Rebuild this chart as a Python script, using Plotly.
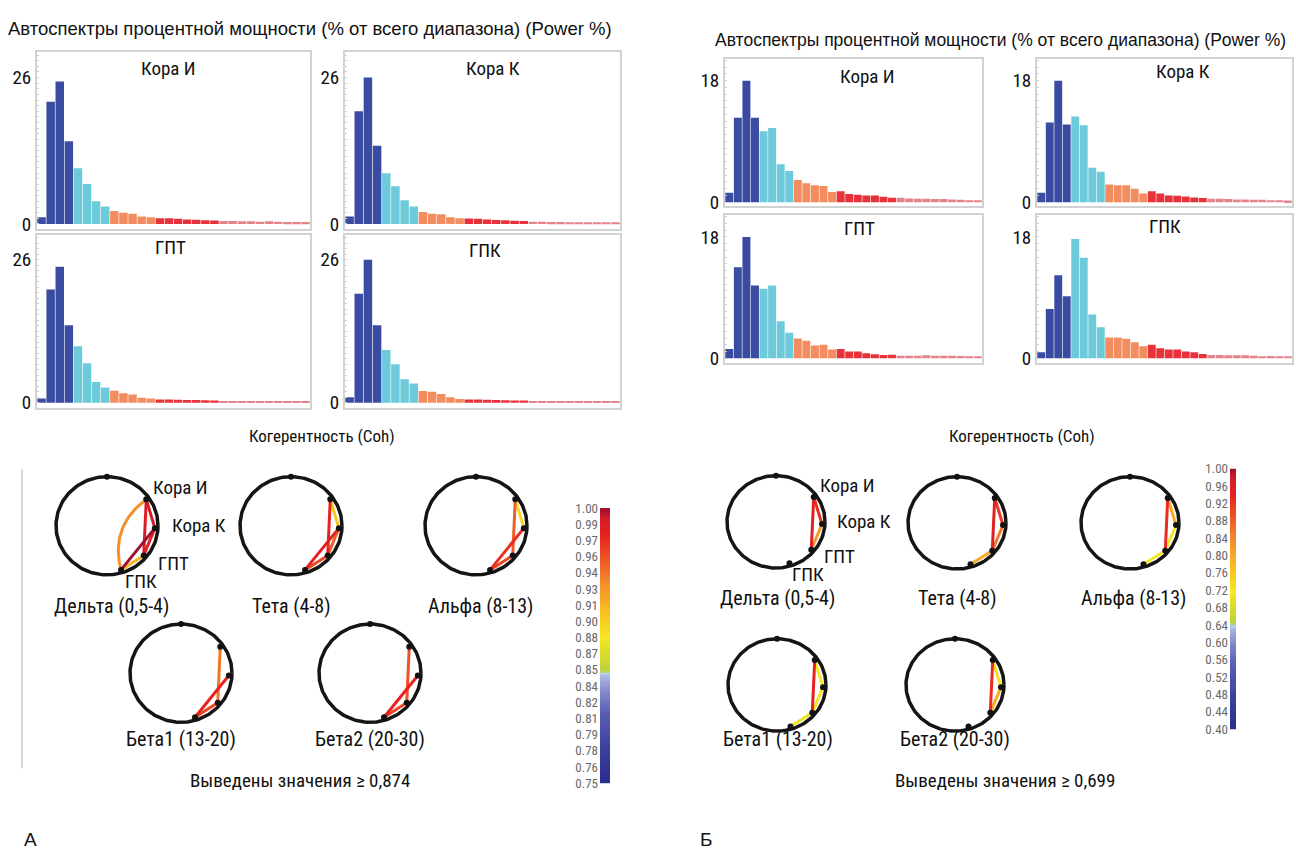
import numpy as np
import plotly.graph_objects as go

W, H = 1296, 857
FONT = "Liberation Sans Narrow, Arial Narrow, Roboto Condensed, Roboto, sans-serif"
FONT_WIDE = "Liberation Sans, Arial, sans-serif"

# ---------------- DATA ----------------
# Power % spectra, 30 one-Hz bins (0.5..30 Hz)
spec_A_kora_i = [1.2, 21.7, 25.3, 14.7, 9.9, 7.1, 4.0, 3.1, 2.3, 2.0, 1.8, 1.3, 1.2, 1.0, 1.0,
                 0.9, 0.8, 0.75, 0.65, 0.6, 0.5, 0.5, 0.45, 0.45, 0.4, 0.45, 0.4, 0.35, 0.35, 0.35]
spec_A_kora_k = [1.3, 20.0, 26.0, 13.9, 9.0, 6.7, 4.2, 3.1, 2.1, 1.8, 1.7, 1.2, 1.0, 0.95, 0.9,
                 0.8, 0.7, 0.65, 0.55, 0.5, 0.4, 0.4, 0.35, 0.35, 0.3, 0.3, 0.3, 0.3, 0.3, 0.3]
spec_A_gpt = [0.8, 20.6, 24.7, 14.1, 10.3, 7.2, 3.8, 2.8, 2.2, 1.75, 1.5, 0.9, 0.8, 0.6, 0.6,
              0.55, 0.5, 0.5, 0.45, 0.4, 0.35, 0.35, 0.3, 0.3, 0.3, 0.3, 0.35, 0.3, 0.3, 0.3]
spec_A_gpk = [1.0, 19.8, 26.0, 14.1, 9.6, 7.0, 4.3, 3.5, 2.15, 2.0, 1.6, 1.0, 0.7, 0.6, 0.6,
              0.55, 0.5, 0.45, 0.4, 0.4, 0.35, 0.35, 0.3, 0.3, 0.3, 0.3, 0.3, 0.3, 0.3, 0.3]

spec_B_kora_i = [1.4, 12.5, 18.0, 12.5, 10.5, 11.0, 5.6, 4.6, 3.3, 2.8, 2.5, 2.4, 1.5, 1.6, 1.2,
                 1.1, 1.0, 1.0, 0.8, 0.65, 0.65, 0.55, 0.5, 0.5, 0.45, 0.45, 0.4, 0.35, 0.3, 0.3]
spec_B_kora_k = [1.4, 11.8, 18.0, 11.5, 12.7, 11.4, 5.1, 4.5, 2.6, 2.5, 2.5, 2.0, 1.3, 1.6, 1.3,
                 1.0, 0.95, 0.85, 0.7, 0.6, 0.5, 0.5, 0.45, 0.4, 0.4, 0.35, 0.35, 0.3, 0.3, 0.25]
spec_B_gpt = [1.4, 13.5, 18.0, 10.8, 10.3, 10.8, 5.5, 3.8, 2.96, 2.6, 1.9, 2.0, 1.3, 1.4, 1.0,
              1.0, 0.75, 0.6, 0.5, 0.55, 0.4, 0.4, 0.4, 0.45, 0.4, 0.4, 0.4, 0.35, 0.3, 0.3]
spec_B_gpk = [0.9, 7.3, 12.3, 9.2, 17.7, 14.9, 6.5, 4.6, 3.1, 3.1, 2.9, 2.4, 1.8, 2.0, 1.5,
              1.3, 1.3, 1.0, 0.9, 0.65, 0.5, 0.5, 0.45, 0.45, 0.45, 0.4, 0.3, 0.35, 0.3, 0.3]

panel_titles = ["Кора И", "Кора К", "ГПТ", "ГПК"]
scale_A_top = 26
scale_B_top = 18

# Coherence: pairs and band values (None = not shown, below threshold)
electrodes = ["Кора И", "Кора К", "ГПТ", "ГПК"]
pairs = [(0, 1), (0, 2), (0, 3), (1, 2), (1, 3), (2, 3)]
bands = ["Дельта (0,5-4)", "Тета (4-8)", "Альфа (8-13)", "Бета1 (13-20)", "Бета2 (20-30)"]
coh_A = [
    [0.99, 0.985, 0.93, 0.98, 1.00, 0.91],
    [0.90, 0.975, None, 0.95, 0.98, 0.96],
    [0.89, 0.95, None, None, 0.97, 0.96],
    [None, 0.94, None, None, 0.975, 0.96],
    [None, 0.955, None, None, 0.975, 0.96],
]
coh_B = [
    [0.93, 0.95, None, 0.82, None, None],
    [0.92, 0.95, None, 0.85, None, 0.80],
    [0.80, 0.93, None, 0.72, None, 0.72],
    [0.72, 0.94, None, 0.72, None, 0.71],
    [0.73, 0.93, None, 0.80, None, None],
]
cbar_A_labels = ["1.00", "0.99", "0.97", "0.96", "0.94", "0.93", "0.91", "0.90", "0.88",
                 "0.87", "0.85", "0.84", "0.82", "0.81", "0.79", "0.78", "0.76", "0.75"]
cbar_B_labels = ["1.00", "0.96", "0.92", "0.88", "0.84", "0.80", "0.76", "0.72",
                 "0.68", "0.64", "0.60", "0.56", "0.52", "0.48", "0.44", "0.40"]
cbar_A_range = (0.75, 1.00)
cbar_B_range = (0.40, 1.00)
threshold_A = "0,874"
threshold_B = "0,699"

# ---------------- STYLE ----------------
band_colors = ["#3a4ca2"] * 4 + ["#6ccadb"] * 4 + ["#f38d5f"] * 5 + ["#e8323b"] * 7 + ["#e5838b"] * 10

cscale = [
    [0.00, "#2a2c8e"], [0.12, "#3a3fa0"], [0.25, "#5a5cb4"], [0.33, "#8488c8"],
    [0.385, "#aab4e0"], [0.40, "#b4dcf2"], [0.405, "#bcd23c"], [0.47, "#d8dc2a"],
    [0.53, "#f6e622"], [0.62, "#f8c020"], [0.72, "#f3902a"], [0.82, "#ee5226"],
    [0.90, "#e6231f"], [0.96, "#d41c28"], [1.00, "#9c1030"],
]


def hex2rgb(h):
    h = h.lstrip("#")
    return tuple(int(h[i:i + 2], 16) for i in (0, 2, 4))


def cmap(t):
    t = min(max(t, 0.0), 1.0)
    for (p0, c0), (p1, c1) in zip(cscale[:-1], cscale[1:]):
        if p0 <= t <= p1:
            f = 0 if p1 == p0 else (t - p0) / (p1 - p0)
            a, b = hex2rgb(c0), hex2rgb(c1)
            r = [round(a[i] + (b[i] - a[i]) * f) for i in range(3)]
            return f"rgb({r[0]},{r[1]},{r[2]})"
    return cscale[-1][1]


fig = go.Figure()
layout = {}
annotations = []
nax = [0]


def new_axes(x0, x1, y0, y1):
    nax[0] += 1
    n = nax[0]
    s = "" if n == 1 else str(n)
    layout["xaxis" + s] = dict(domain=[x0 / W, x1 / W], anchor="y" + s)
    layout["yaxis" + s] = dict(domain=[1 - y1 / H, 1 - y0 / H], anchor="x" + s)
    return "x" + s, "y" + s, "xaxis" + s, "yaxis" + s


def ann(text, x, y, size=17, color="#111", xanchor="center", family=FONT):
    annotations.append(dict(text=text, x=x / W, y=1 - y / H, xref="paper", yref="paper", showarrow=False,
                            xanchor=xanchor, yanchor="middle",
                            font=dict(family=family, size=size, color=color)))


# ---------------- SPECTRA ----------------
def spectrum_panel(vals, box, top, ymax, title, title_xy):
    x0, x1, y0, y1 = box
    xr, yr, xa, ya = new_axes(x0, x1, y0, y1)
    fig.add_trace(go.Bar(x=list(range(len(vals))), y=vals, marker=dict(color=band_colors, line=dict(width=0)),
                         xaxis=xr, yaxis=yr, hoverinfo="skip"))
    layout[xa].update(range=[-0.5, len(vals) - 0.5], showline=True, mirror=True, linecolor="#d2d2d2",
                      linewidth=2, showticklabels=False, showgrid=False, zeroline=False, ticks="")
    layout[ya].update(range=[-0.03 * ymax, ymax], showline=True, mirror=True, linecolor="#d2d2d2",
                      linewidth=2, tickvals=[0, top], ticktext=["0", str(top)], ticks="",
                      tickfont=dict(family=FONT, size=19, color="#111"), showgrid=False, zeroline=False,
                      minor=dict(ticks="inside", ticklen=2, tickcolor="#d0d0d0", dtick=1))
    ann(title, title_xy[0], title_xy[1], size=19)


specA = [spec_A_kora_i, spec_A_kora_k, spec_A_gpt, spec_A_gpk]
specB = [spec_B_kora_i, spec_B_kora_k, spec_B_gpt, spec_B_gpk]
boxesA = [(37, 310, 46, 226), (345, 620, 46, 226), (37, 310, 232, 408), (345, 620, 232, 408)]
titlesA = [(168, 63), (493, 63), (170, 245), (485, 248)]
boxesB = [(725, 982, 53, 203), (1037, 1292, 53, 203), (725, 982, 212, 362), (1037, 1292, 212, 362)]
titlesB = [(867, 71), (1183, 66), (860, 225), (1165, 223)]
for v, b, t, tt in zip(specA, boxesA, panel_titles, titlesA):
    spectrum_panel(v, b, scale_A_top, 30.5, t, tt)
for v, b, t, tt in zip(specB, boxesB, panel_titles, titlesB):
    spectrum_panel(v, b, scale_B_top, 21.2, t, tt)

# ---------------- COHERENCE HEADS ----------------
elec_ang = np.radians([35, -3, -40, -73])
elec_r = 0.94
label_off = [(1.45, 0.78), (1.8, 0.0), (1.3, -0.76), (0.66, -1.14)]


def head(cx, cy, rx, ry, vals, vmin, vmax, with_labels):
    xr, yr, xa, ya = new_axes(cx - 1.3 * rx, cx + 1.3 * rx, cy - 1.3 * ry, cy + 1.3 * ry)
    layout[xa].update(range=[-1.3, 1.3], visible=False)
    layout[ya].update(range=[-1.3, 1.3], visible=False)
    th = np.linspace(0, 2 * np.pi, 200)
    fig.add_trace(go.Scatter(x=np.cos(th), y=np.sin(th), mode="lines", line=dict(color="#151515", width=3.5),
                             xaxis=xr, yaxis=yr, hoverinfo="skip"))
    ex = elec_r * np.cos(elec_ang)
    ey = elec_r * np.sin(elec_ang)
    order = sorted([i for i, v in enumerate(vals) if v is not None], key=lambda i: vals[i])
    for i in order:
        a, b = pairs[i]
        col = cmap((vals[i] - vmin) / (vmax - vmin))
        if (a, b) == (0, 3):
            p0 = np.array([ex[a], ey[a]])
            p2 = np.array([ex[b], ey[b]])
            c = (p0 + p2) / 2 * 0.1
            t = np.linspace(0, 1, 40)[:, None]
            pts = (1 - t) ** 2 * p0 + 2 * (1 - t) * t * c + t ** 2 * p2
            lx, ly = pts[:, 0], pts[:, 1]
        else:
            lx, ly = [ex[a], ex[b]], [ey[a], ey[b]]
        fig.add_trace(go.Scatter(x=lx, y=ly, mode="lines", line=dict(color=col, width=3),
                                 xaxis=xr, yaxis=yr, hoverinfo="skip"))
    fig.add_trace(go.Scatter(x=list(ex) + [0], y=list(ey) + [1.0], mode="markers",
                             marker=dict(color="#111", size=6), xaxis=xr, yaxis=yr, hoverinfo="skip"))
    if with_labels:
        for name, (dx, dy) in zip(electrodes, label_off):
            ann(name, cx + dx * rx, cy - dy * ry, size=19)


headsA = [(107, 528), (291, 528), (476, 528), (181, 678), (370, 678)]
labelsA = [(111, 610), (291, 610), (480, 610), (181, 745), (370, 745)]
headsB = [(776, 524), (957, 525), (1130, 525), (777, 690), (955, 690)]
labelsB = [(777, 602), (958, 602), (1133, 602), (778, 745), (955, 745)]
for k in range(5):
    head(headsA[k][0], headsA[k][1], 51, 50, coh_A[k], cbar_A_range[0], cbar_A_range[1], k == 0)
    ann(bands[k], labelsA[k][0], labelsA[k][1], size=20)
    head(headsB[k][0], headsB[k][1], 49, 47, coh_B[k], cbar_B_range[0], cbar_B_range[1], k == 0)
    ann(bands[k], labelsB[k][0], labelsB[k][1], size=20)


# ---------------- COLOR BARS ----------------
def colorbar(x0, x1, y0, y1, vr, labels):
    xr, yr, xa, ya = new_axes(x0, x1, y0, y1)
    lv = np.linspace(vr[0], vr[1], 120)
    fig.add_trace(go.Heatmap(z=[[v] for v in lv], y=lv, x=[0], colorscale=cscale, zmin=vr[0], zmax=vr[1],
                             showscale=False, xaxis=xr, yaxis=yr, hoverinfo="skip"))
    layout[xa].update(range=[-0.5, 0.5], visible=False)
    pos = np.linspace(vr[1], vr[0], len(labels))
    layout[ya].update(range=[vr[0], vr[1]], tickvals=pos, ticktext=labels, ticks="", showgrid=False,
                      zeroline=False, showline=False, ticklabelstandoff=1,
                      tickfont=dict(family=FONT, size=13, color="#6a6a6a"))


colorbar(600, 610, 510, 790, cbar_A_range, cbar_A_labels)
colorbar(1230, 1236, 470, 735, cbar_B_range, cbar_B_labels)

# ---------------- TEXT ----------------
ann("Автоспектры процентной мощности (% от всего диапазона) (Power %)", 310, 22, size=18.5, family=FONT_WIDE)
ann("Автоспектры процентной мощности (% от всего диапазона) (Power %)", 1000, 34, size=17.5, family=FONT_WIDE)
ann("Когерентность (Coh)", 322, 437, size=17)
ann("Когерентность (Coh)", 1022, 437, size=17)
ann("Выведены значения ≥ " + threshold_A, 300, 787, size=19)
ann("Выведены значения ≥ " + threshold_B, 1005, 787, size=19)
ann("А", 30, 847, size=19, family=FONT_WIDE)
ann("Б", 706, 847, size=19, family=FONT_WIDE)

layout.update(width=W, height=H, margin=dict(l=0, r=0, t=0, b=0), paper_bgcolor="white",
              plot_bgcolor="white", showlegend=False, bargap=0.07, annotations=annotations,
              shapes=[dict(type="line", xref="paper", yref="paper", x0=22 / W, x1=22 / W,
                           y0=1 - 470 / H, y1=1 - 775 / H, line=dict(color="#cccccc", width=1.5))])
fig.update_layout(**layout)
fig.write_html("out.html", config={"displayModeBar": False},
               post_script="document.body.style.margin='0';document.body.style.padding='0';")
